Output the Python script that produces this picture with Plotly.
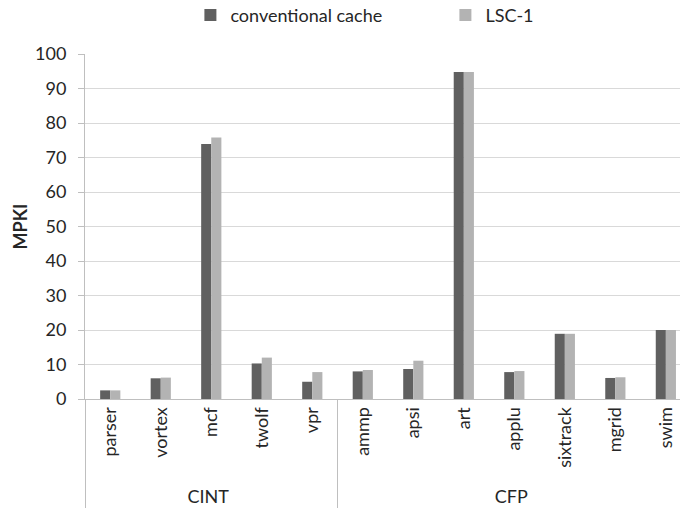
import plotly.graph_objects as go

# Benchmark suites and programs
suites = ["CINT"] * 5 + ["CFP"] * 7
benchmarks = ["parser", "vortex", "mcf", "twolf", "vpr",
              "ammp", "apsi", "art", "applu", "sixtrack", "mgrid", "swim"]

# Misses per kilo-instruction
conventional_cache = [2.5, 6.0, 73.9, 10.3, 5.0, 8.0, 8.7, 94.8, 7.8, 18.9, 6.1, 20.0]
lsc_1 = [2.5, 6.2, 75.8, 12.0, 7.8, 8.4, 11.1, 94.8, 8.1, 18.9, 6.3, 20.0]

y_ticks = list(range(0, 101, 10))

FONT = "Lato"
TEXT = "#262626"
AXIS = "#bfbfbf"
GRID = "#d9d9d9"

fig = go.Figure()
fig.add_trace(go.Bar(name="conventional cache", x=[suites, benchmarks], y=conventional_cache,
                     marker=dict(color="#606060", line=dict(width=0))))
fig.add_trace(go.Bar(name="LSC-1", x=[suites, benchmarks], y=lsc_1,
                     marker=dict(color="#b3b3b3", line=dict(width=0))))

fig.update_layout(
    width=680, height=511,
    margin=dict(l=85, r=0, t=54, b=112, autoexpand=False),
    paper_bgcolor="white", plot_bgcolor="white",
    barmode="group", bargap=0.6, bargroupgap=0,
    font=dict(family=FONT, size=18, color=TEXT),
    legend=dict(orientation="h", xref="container", x=0.28, xanchor="left",
                yref="container", y=0.97, yanchor="middle",
                font=dict(size=18), itemwidth=30, entrywidthmode="pixels", entrywidth=210),
)

fig.update_xaxes(
    type="multicategory", range=[-0.5, 11.28],
    showline=True, linecolor=AXIS, linewidth=1,
    showgrid=False, ticks="",
    tickangle=-90, tickfont=dict(size=18),
    showdividers=True, dividercolor=AXIS, dividerwidth=1,
)
fig.update_yaxes(
    range=[0, 100], tickvals=y_ticks,
    showline=True, linecolor=AXIS, linewidth=1,
    showgrid=True, gridcolor=GRID, gridwidth=1,
    ticks="outside", ticklen=6, tickcolor=AXIS,
    tickfont=dict(size=18), ticklabelstandoff=8,
    title=dict(text="<b>MPKI</b>", font=dict(size=18), standoff=2),
    zeroline=False,
)

fig.write_html("out.html")
